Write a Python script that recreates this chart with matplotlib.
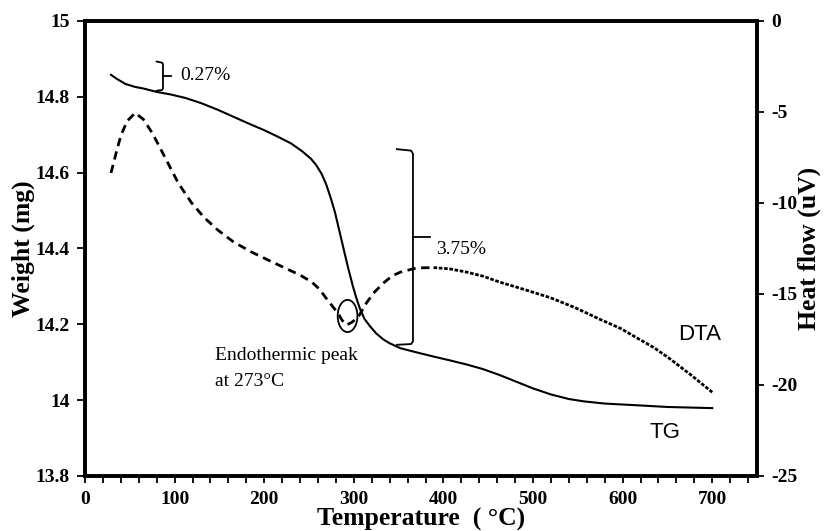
import matplotlib
matplotlib.use("Agg")
import matplotlib.pyplot as plt
from matplotlib.patches import Ellipse
from matplotlib.ticker import MultipleLocator

plt.rcParams['axes.unicode_minus'] = False
plt.rcParams['font.family'] = ['Liberation Serif', 'DejaVu Serif']

# ---- data ----
tg_T = [29, 35, 45, 56, 65, 80, 96, 112, 130, 148, 166, 186, 200, 215, 230, 242,
        252, 258, 264, 269, 274, 279, 283, 288, 293, 299, 303, 307, 312, 318,
        325, 333, 340, 352, 370, 389, 407, 426, 444, 463, 482, 500, 520, 540,
        556, 580, 612, 650, 700]
tg_w = [14.858, 14.848, 14.834, 14.826, 14.822, 14.813, 14.806, 14.797, 14.783,
        14.766, 14.747, 14.726, 14.712, 14.695, 14.677, 14.657, 14.637, 14.620,
        14.597, 14.570, 14.535, 14.495, 14.455, 14.405, 14.355, 14.300, 14.268,
        14.240, 14.214, 14.195, 14.176, 14.160, 14.150, 14.137, 14.126, 14.115,
        14.105, 14.094, 14.082, 14.066, 14.048, 14.031, 14.015, 14.003, 13.997,
        13.991, 13.987, 13.982, 13.979]

dta_T = [29, 35, 40, 47, 56, 65, 75, 89, 104, 119, 133, 148, 166, 186, 205, 223,
         240, 253, 262, 268, 275, 282, 287, 292, 298, 305, 314, 322, 333, 343,
         352, 370, 389, 407, 426, 444, 463, 490, 519, 547, 575, 598, 619, 635,
         650, 675, 700]
dta_v = [-8.35, -7.2, -6.3, -5.5, -5.05, -5.4, -6.15, -7.47, -8.9, -10.0, -10.8,
         -11.48, -12.15, -12.7, -13.15, -13.57, -13.96, -14.34, -14.75, -15.16,
         -15.6, -16.04, -16.45, -16.7, -16.55, -16.26, -15.5, -14.95, -14.4,
         -14.0, -13.8, -13.57, -13.55, -13.62, -13.8, -14.02, -14.35, -14.75,
         -15.2, -15.75, -16.4, -16.9, -17.5, -17.95, -18.46, -19.4, -20.4]

x_ticks = [0, 100, 200, 300, 400, 500, 600, 700]
left_ticks = [13.8, 14, 14.2, 14.4, 14.6, 14.8, 15]
left_labels = ['13.8', '14', '14.2', '14.4', '14.6', '14.8', '15']
right_ticks = [0, -5, -10, -15, -20, -25]
right_labels = ['0', '-5', '-10', '-15', '-20', '-25']

fig = plt.figure(figsize=(8.27, 5.31), dpi=100)
ax = fig.add_axes([0.1028, 0.1036, 0.8126, 0.8569])
ax2 = ax.twinx()

tick_font = dict(family='Liberation Serif', weight='bold', size=14)

# TG curve
ax.plot(tg_T, tg_w, color='black', lw=1.5, solid_joinstyle='round')

# DTA curve (dashed, denser dashes at high temperature)
split = dta_T.index(389)
ax2.plot(dta_T[:split + 1], dta_v[:split + 1], color='black', lw=2.0,
         dashes=(3.0, 2.0))
ax2.plot(dta_T[split:], dta_v[split:], color='black', lw=2.0,
         dashes=(1.3, 0.6))

ax.set_xlim(0, 750)
ax.set_ylim(13.8, 15)
ax2.set_ylim(-25, 0)

ax.set_xticks(x_ticks)
ax.set_xticklabels([str(t) for t in x_ticks], **tick_font)
ax.xaxis.set_minor_locator(MultipleLocator(20))
ax.set_yticks(left_ticks)
ax.set_yticklabels(left_labels, **tick_font)
ax2.set_yticks(right_ticks)
ax2.set_yticklabels(right_labels, **tick_font)

ax.tick_params(axis='x', which='both', direction='out', length=5, width=1.3, pad=6)
ax.tick_params(axis='y', direction='out', length=6, width=1.3, pad=5)
ax2.tick_params(axis='y', direction='out', length=5, width=1.3, pad=5)

for a in (ax, ax2):
    for s in a.spines.values():
        s.set_linewidth(2.6)

ax.set_xlabel('Temperature  ( °C)', fontsize=18.5, fontweight='bold', labelpad=0)
ax.set_ylabel('Weight (mg)', fontsize=18.5, fontweight='bold', labelpad=0)
ax2.set_ylabel('Heat flow (uV)', fontsize=18.5, fontweight='bold', labelpad=0)

# ---- annotations ----
# small bracket 0.27 %
ax.plot([80, 86, 87, 87, 86, 80], [14.893, 14.890, 14.886, 14.822, 14.818, 14.816],
        color='black', lw=1.3)
ax.plot([87, 96], [14.855, 14.855], color='black', lw=1.3)
ax.text(106, 14.855, '0.27%', fontsize=14, va='center', ha='left')

# big bracket 3.75 %
ax.plot([348, 364, 366, 366, 364, 348], [14.662, 14.658, 14.650, 14.155, 14.148, 14.146],
        color='black', lw=1.3)
ax.plot([366, 385], [14.43, 14.43], color='black', lw=1.3)
ax.text(392, 14.397, '3.75%', fontsize=14, va='center', ha='left')

# endothermic peak ellipse and label
ax.add_patch(Ellipse((293, 14.222), 22, 0.085, fill=False, edgecolor='black', lw=1.3))
ax.text(145, 14.084, 'Endothermic peak\nat 273°C', fontsize=14, va='center',
        ha='left', linespacing=1.65)

ax.text(662, 14.174, 'DTA', fontsize=16, va='center', ha='left',
        family='Liberation Sans')
ax.text(630, 13.916, 'TG', fontsize=16, va='center', ha='left',
        family='Liberation Sans')

fig.savefig('out.png', dpi=100)
